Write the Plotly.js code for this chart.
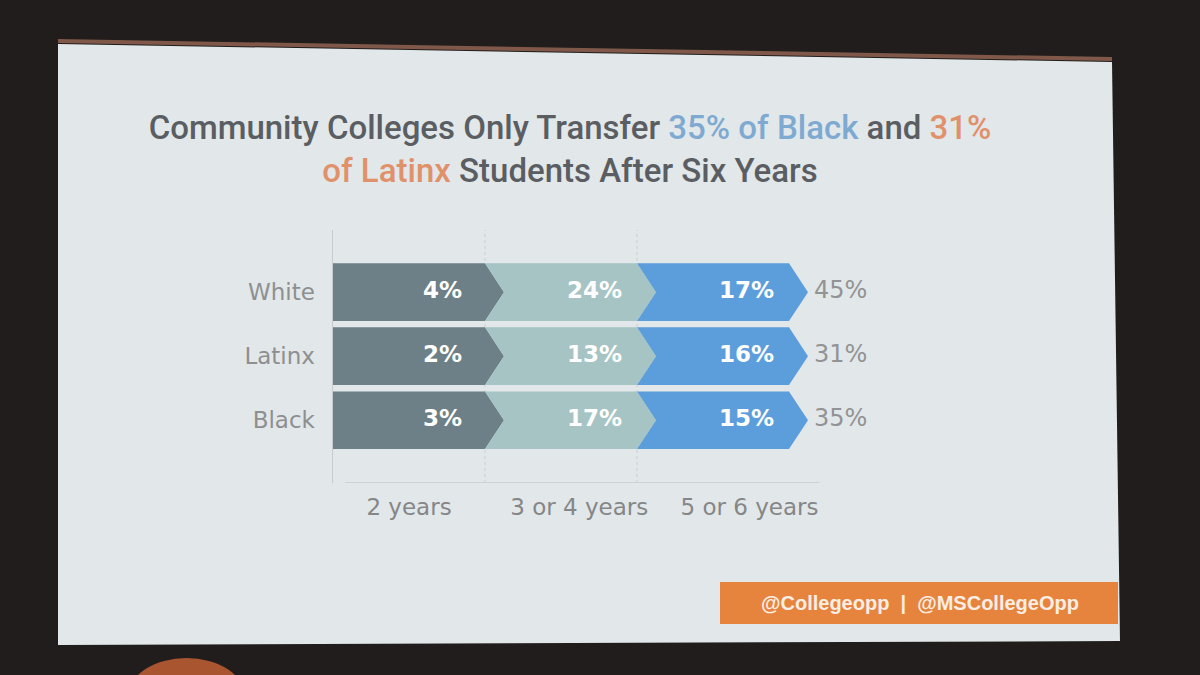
<!DOCTYPE html>
<html>
<head>
<meta charset="utf-8">
<script src="https://cdn.plot.ly/plotly-3.0.1.min.js"></script>
<style>html,body{margin:0;padding:0;background:#211d1d;}#chart{width:1200px;height:675px;}</style>
</head>
<body>
<div id="chart"></div>
<script>
// ---- data ----
const rows = ["White", "Latinx", "Black"];
const periods = ["2 years", "3 or 4 years", "5 or 6 years"];
const twoYears = [4, 2, 3];
const threeFourYears = [24, 13, 17];
const fiveSixYears = [17, 16, 15];
const totals = [45, 31, 35];

// ---- styling ----
const W = 1200, H = 675;
const segColors = ["#6d7f87", "#a6c4c4", "#5c9edb"];
const series = [twoYears, threeFourYears, fiveSixYears];
const tip = 0.125;   // chevron depth in x units
const half = 0.45;   // half bar height in y units
const px = (x) => x / W;
const py = (y) => 1 - y / H;

const traces = [];
series.forEach((vals, j) => {
  const xs = [], ys = [];
  rows.forEach((r, i) => {
    const yc = rows.length - 1 - i;
    xs.push(j, j + 1, j + 1 + tip, j + 1, j);
    ys.push(yc - half, yc - half, yc, yc + half, yc + half);
    if (j > 0) { xs.push(j + tip); ys.push(yc); }
    xs.push(null); ys.push(null);
  });
  traces.push({
    type: "scatter", mode: "lines", x: xs, y: ys, fill: "toself",
    fillcolor: segColors[j], line: {width: 0, color: segColors[j]},
    hoverinfo: "skip", showlegend: false, name: periods[j]
  });
});
series.forEach((vals, j) => {
  traces.push({
    type: "scatter", mode: "text",
    x: rows.map(() => j + 0.72),
    y: rows.map((r, i) => rows.length - 1 - i),
    text: vals.map(v => v + "%"),
    textposition: "middle center",
    textfont: {family: "DejaVu Sans", size: 23, color: "#ffffff", weight: 700},
    hoverinfo: "skip", showlegend: false, cliponaxis: false
  });
});
traces.push({
  type: "scatter", mode: "text",
  x: rows.map(() => periods.length + 0.34),
  y: rows.map((r, i) => rows.length - 1 - i),
  text: totals.map(v => v + "%"),
  textposition: "middle center",
  textfont: {family: "DejaVu Sans", size: 24, color: "#929394"},
  hoverinfo: "skip", showlegend: false, cliponaxis: false
});

const shapes = [
  // slide
  {type: "path", xref: "paper", yref: "paper",
   path: `M${px(58)},${py(44)} L${px(1112)},${py(62)} L${px(1120)},${py(641)} L${px(58)},${py(645)} Z`,
   fillcolor: "#e2e7e9", line: {width: 0}, layer: "below"},
  {type: "line", xref: "paper", yref: "paper", x0: px(58), y0: py(41), x1: px(1112), y1: py(59),
   line: {color: "#80584a", width: 4}, layer: "below"},
  // audience head
  {type: "circle", xref: "paper", yref: "paper", x0: px(128), y0: py(735), x1: px(245), y1: py(658),
   fillcolor: "#a9552f", line: {width: 0}, layer: "above"},
  // footer box
  {type: "rect", xref: "paper", yref: "paper", x0: px(720), y0: py(624), x1: px(1118), y1: py(582),
   fillcolor: "#e6833d", line: {width: 0}},
  // x axis line
  {type: "line", xref: "x", yref: "y", x0: 0.08, x1: 3.2, y0: -0.98, y1: -0.98,
   line: {color: "#c6ccce", width: 1.5}, layer: "below"}
];
[1, 2].forEach(g => shapes.push({type: "line", xref: "x", yref: "y", x0: g, x1: g, y0: -0.98, y1: 2.97,
  line: {color: "#cdd2d4", width: 1.2, dash: "dot"}, layer: "below"}));

const layout = {
  width: W, height: H,
  margin: {l: 0, r: 0, t: 0, b: 0},
  paper_bgcolor: "#211d1d", plot_bgcolor: "rgba(0,0,0,0)",
  title: {
    text: "Community Colleges Only Transfer <span style='color:#7eaad2'>35% of Black</span> and <span style='color:#e0916a'>31%</span><br><span style='color:#e0916a'>of Latinx</span> Students After Six Years",
    x: px(570), xanchor: "center", xref: "paper",
    y: py(139), yanchor: "middle", yref: "paper",
    font: {family: "Roboto", size: 33, color: "#5a5e62", weight: 500}
  },
  xaxis: {
    domain: [px(333), px(865)], range: [0, 3.5],
    showgrid: false, zeroline: false, showline: false, ticks: "",
    tickvals: periods.map((p, j) => j + 0.5 + 0.12 * j), ticktext: periods,
    tickfont: {family: "DejaVu Sans", size: 23, color: "#858687"},
    ticklabelstandoff: 8, fixedrange: true
  },
  yaxis: {
    domain: [py(483), py(230)], range: [-0.98, 2.97],
    showgrid: false, zeroline: false, showline: true, linecolor: "#c6ccce", linewidth: 1.5,
    ticks: "", tickvals: rows.map((r, i) => rows.length - 1 - i), ticktext: rows,
    tickfont: {family: "DejaVu Sans", size: 23, color: "#8e8f90"},
    ticklabelstandoff: 12, fixedrange: true
  },
  shapes: shapes,
  annotations: [{
    xref: "paper", yref: "paper", x: px(920), y: py(603), xanchor: "center", yanchor: "middle",
    text: "@Collegeopp  |  @MSCollegeOpp", showarrow: false,
    font: {family: "Liberation Sans", size: 20, color: "#fbeee4", weight: 700}
  }]
};

Plotly.newPlot("chart", traces, layout, {displayModeBar: false, staticPlot: true});
</script>
</body>
</html>
